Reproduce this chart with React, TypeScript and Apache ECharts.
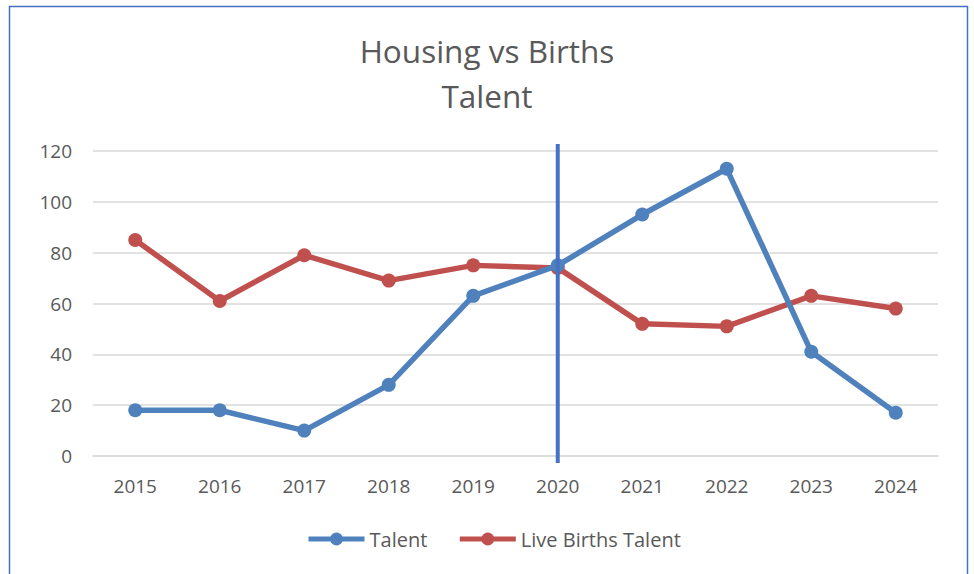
import React, { useEffect, useRef } from "react";
import * as echarts from "echarts";

const categories = ["2015", "2016", "2017", "2018", "2019", "2020", "2021", "2022", "2023", "2024"];
const talent = [18, 18, 10, 28, 63, 75, 95, 113, 41, 17];
const liveBirthsTalent = [85, 61, 79, 69, 75, 74, 52, 51, 63, 58];
const markerYear = "2020";
const yTicks = { min: 0, max: 120, interval: 20 };

const FONT = "'Open Sans', 'Noto Sans', sans-serif";
const TEXT = "#595959";
const BLUE = "#4F81BD";
const RED = "#C0504D";

export default function App() {
  const ref = useRef<HTMLDivElement>(null);
  useEffect(() => {
    document.body.style.margin = "0";
    if (!ref.current) return;
    const chart = echarts.init(ref.current, undefined, { renderer: "svg" });
    chart.setOption({
      animation: false,
      backgroundColor: "#ffffff",
      title: {
        text: "Housing vs Births\nTalent",
        left: "center",
        top: 23,
        textStyle: { fontFamily: FONT, fontSize: 31.5, fontWeight: "normal", color: TEXT, lineHeight: 45 },
      },
      graphic: [
        {
          type: "rect",
          shape: { x: 9.5, y: 6.5, width: 958, height: 580 },
          style: { fill: "none", stroke: "#4472C4", lineWidth: 1.5 },
          silent: true,
        },
      ],
      grid: { left: 93, right: 36, top: 151, bottom: 118 },
      legend: {
        bottom: 25,
        left: 306,
        padding: 0,
        itemWidth: 56,
        itemHeight: 16,
        itemGap: 30,
        textStyle: { fontFamily: FONT, fontSize: 20, color: TEXT },
        data: [
          { name: "Talent", lineStyle: { width: 5 } },
          { name: "Live Births Talent", lineStyle: { width: 5 } },
        ],
      },
      xAxis: {
        type: "category",
        data: categories,
        boundaryGap: true,
        axisLine: { lineStyle: { color: "#d9d9d9", width: 1.5 } },
        axisTick: { show: false },
        axisLabel: { fontFamily: FONT, fontSize: 19, color: TEXT, margin: 20 },
      },
      yAxis: {
        type: "value",
        min: yTicks.min,
        max: yTicks.max,
        interval: yTicks.interval,
        axisLine: { show: false },
        axisTick: { show: false },
        axisLabel: { fontFamily: FONT, fontSize: 19, color: TEXT, margin: 21 },
        splitLine: { lineStyle: { color: "#d9d9d9", width: 1.5 } },
      },
      series: [
        {
          name: "Talent",
          type: "line",
          data: talent,
          symbol: "circle",
          symbolSize: 14,
          lineStyle: { width: 5.5, color: BLUE },
          itemStyle: { color: BLUE },
          z: 3,
        },
        {
          name: "Live Births Talent",
          type: "line",
          data: liveBirthsTalent,
          symbol: "circle",
          symbolSize: 14,
          lineStyle: { width: 5.5, color: RED },
          itemStyle: { color: RED },
          z: 2,
        },
        {
          name: "marker",
          type: "custom",
          data: [[markerYear, yTicks.min, yTicks.max]],
          z: 5,
          silent: true,
          renderItem: (params: any, api: any) => {
            const p0 = api.coord([api.value(0), api.value(1)]);
            const p1 = api.coord([api.value(0), api.value(2)]);
            return {
              type: "line",
              shape: { x1: p0[0], y1: p0[1] + 7, x2: p1[0], y2: p1[1] - 7 },
              style: { stroke: "#4472C4", lineWidth: 4 },
            };
          },
        },
      ],
    });
    return () => chart.dispose();
  }, []);
  return <div ref={ref} style={{ width: 974, height: 574 }} />;
}
